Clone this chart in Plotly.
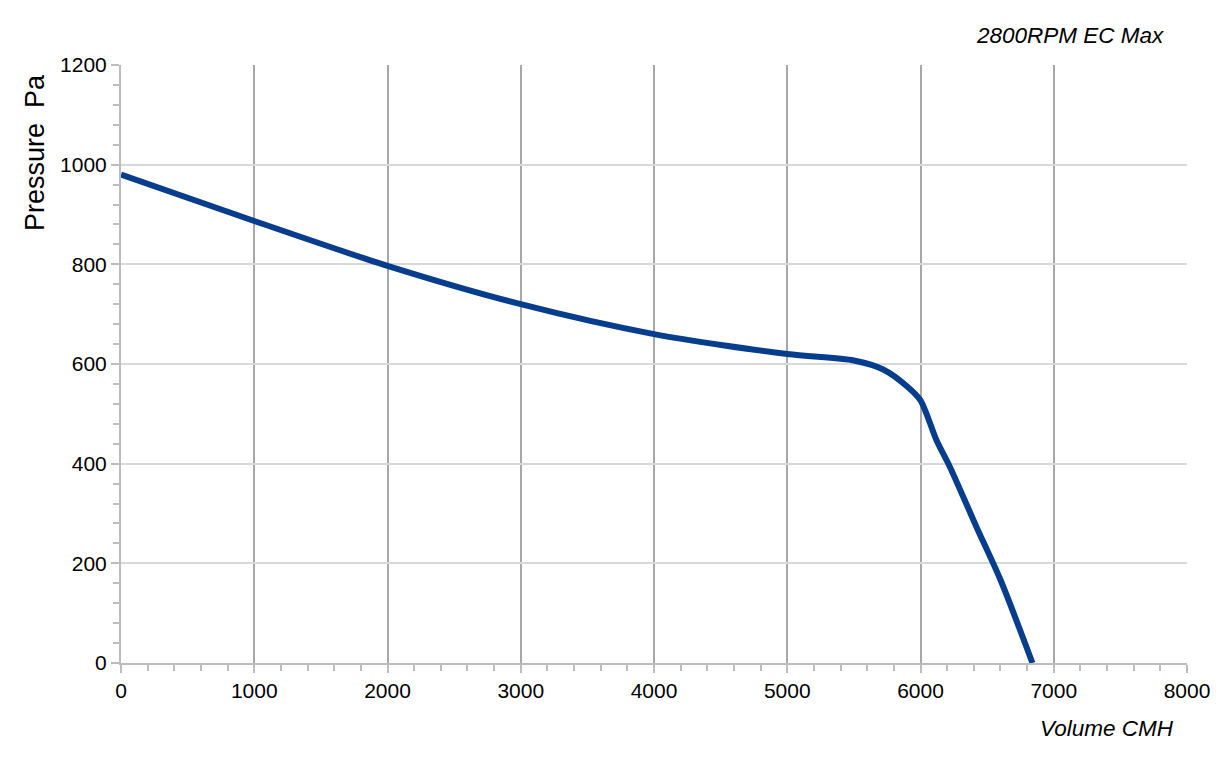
import plotly.graph_objects as go

volume_cmh = [0, 1000, 2000, 3000, 4000, 5000, 5500, 5720, 5900, 6000, 6120, 6220, 6420, 6600, 6840]
pressure_pa = [980, 887, 797, 720, 660, 620, 607, 589, 555, 527, 447, 394, 273, 167, 0]

x_ticks = [0, 1000, 2000, 3000, 4000, 5000, 6000, 7000, 8000]
y_ticks = [0, 200, 400, 600, 800, 1000, 1200]

title_text = "2800RPM EC Max"
x_title = "Volume CMH"
y_title = "Pressure  Pa"

FONT = "Liberation Sans, Arial, sans-serif"

fig = go.Figure()
fig.add_trace(go.Scatter(
    x=volume_cmh, y=pressure_pa, mode="lines",
    line=dict(color="#063d8c", width=6, shape="spline", smoothing=0.8),
    hoverinfo="x+y", showlegend=False,
))

fig.update_layout(
    width=1219, height=755,
    margin=dict(l=113, r=40, t=57, b=100),
    paper_bgcolor="white", plot_bgcolor="white",
    font=dict(family=FONT, color="black", size=21),
    xaxis=dict(
        range=[0, 8000], tickvals=x_ticks, ticktext=[str(v) for v in x_ticks],
        showgrid=True, gridcolor="#a8a8a8", gridwidth=2,
        showline=True, linecolor="#bdbdbd", linewidth=2,
        ticks="outside", ticklen=8, tickwidth=2, tickcolor="#bdbdbd",
        tickfont=dict(size=21, family=FONT, color="black"),
        zeroline=False, fixedrange=True,
        minor=dict(dtick=200, ticks="outside", ticklen=6, tickwidth=2,
                   tickcolor="#bdbdbd", showgrid=False),
    ),
    yaxis=dict(
        range=[0, 1200], tickvals=y_ticks, ticktext=[str(v) for v in y_ticks],
        showgrid=True, gridcolor="#d9d9d9", gridwidth=2,
        showline=True, linecolor="#bdbdbd", linewidth=2,
        ticks="outside", ticklen=8, tickwidth=2, tickcolor="#bdbdbd",
        tickfont=dict(size=21, family=FONT, color="black"),
        zeroline=False, fixedrange=True,
        minor=dict(dtick=40, ticks="outside", ticklen=6, tickwidth=2,
                   tickcolor="#bdbdbd", showgrid=False),
    ),
    annotations=[
        dict(text=title_text, xref="paper", yref="paper", x=0.9805, y=1.0485,
             xanchor="right", yanchor="middle", showarrow=False,
             font=dict(size=22.5, family=FONT, color="black", style="italic")),
        dict(text=x_title, xref="paper", yref="paper", x=0.9895, y=-0.110,
             xanchor="right", yanchor="middle", showarrow=False,
             font=dict(size=22.5, family=FONT, color="black", style="italic")),
        dict(text=y_title, xref="paper", yref="paper", x=-0.0807, y=0.8545,
             xanchor="center", yanchor="middle", showarrow=False, textangle=-90,
             font=dict(size=27, family=FONT, color="black")),
    ],
)

fig.write_html("out.html")
